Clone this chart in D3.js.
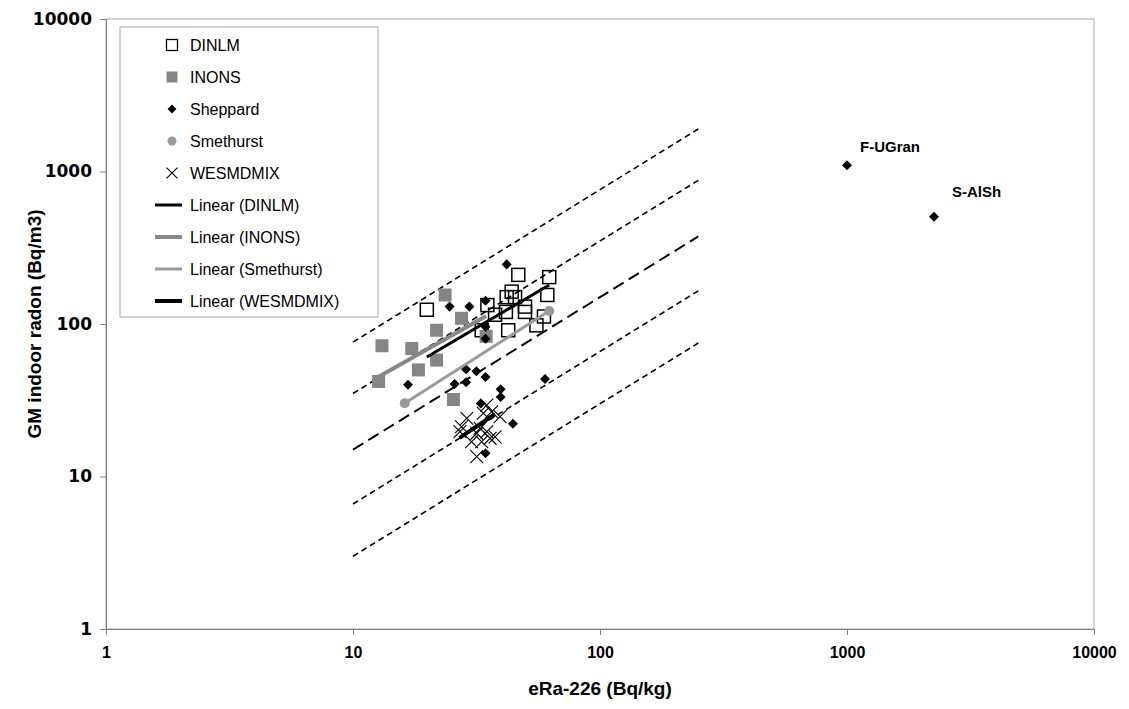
<!DOCTYPE html>
<html>
<head>
<meta charset="utf-8">
<script src="https://cdn.jsdelivr.net/npm/d3@7"></script>
<style>
  body { margin: 0; background: #fff; }
  text { font-family: "Liberation Sans", Arial, sans-serif; }
</style>
</head>
<body>
<svg id="chart"></svg>
<script>
// values
var dinlmX = [19.9, 46.7, 62.3, 61.2, 43.9, 41.9, 45.3, 35.0, 37.6, 41.6, 49.7, 49.7, 42.5, 33.2, 55.3, 59.3];
var dinlmY = [124, 210, 203, 155, 163, 150, 150, 133, 115, 120, 130, 120, 91, 91, 98, 112];

var inonsX = [23.6, 13.1, 17.3, 21.8, 27.5, 21.8, 18.4, 12.7, 25.5, 34.6];
var inonsY = [155, 72, 69, 91, 109, 58, 50, 42, 32, 83];

var sheppardX = [41.9, 24.6, 29.6, 34.4, 34.4, 34.4, 16.7, 28.7, 31.6, 34.4, 25.8, 28.7, 39.6, 39.6, 59.9, 32.9, 44.4, 34.4, 1000, 2250];
var sheppardY = [246, 130, 130, 142, 96, 80, 40, 50.5, 49, 45, 40.4, 41.5, 37.3, 33.2, 43.6, 30.1, 22.2, 14.2, 1100, 505];

var smethurstX = [16.2, 62.3];
var smethurstY = [30.2, 121.7];

var wesX = [27.5, 28.9, 33.7, 36.4, 39.4, 31.7, 34.8, 37.6, 30.2, 33.2, 35.9, 31.7, 32.7, 27.1, 34.8];
var wesY = [21.2, 24.1, 26.0, 26.6, 24.7, 19.2, 19.7, 18.2, 16.9, 16.9, 17.8, 13.5, 20.7, 19.7, 29.4];

// trend lines (end points)
var trendDinlm = [[19.9, 60.8], [62.3, 180]];
var trendInons = [[12.7, 45.1], [34.6, 112.8]];
var trendSmethurst = [[16.2, 30.2], [62.3, 121.7]];
var trendWes = [[27.0, 17.9], [37.6, 25.7]];

// dashed guide lines, value at x=10 and x=250
var guideStart = [76, 35, 15, 6.6, 3.0];
var guideEnd = [1900, 875, 375, 165, 75];
var guideRange = [10, 250];

var outlierNames = ["F-UGran", "S-AlSh"];
var outlierX = [1000, 2250];
var outlierY = [1100, 505];

var ticks = [1, 10, 100, 1000, 10000];

var W = 1129, H = 709;
var margin = {top: 19, right: 35, bottom: 80, left: 106};

var svg = d3.select("#chart").attr("width", W).attr("height", H);
svg.append("rect").attr("width", W).attr("height", H).attr("fill", "#fff");

var x = d3.scaleLog().domain([1, 10000]).range([margin.left, W - margin.right]);
var y = d3.scaleLog().domain([1, 10000]).range([H - margin.bottom, margin.top]);

// plot frame
svg.append("rect")
  .attr("x", x(1)).attr("y", y(10000))
  .attr("width", x(10000) - x(1)).attr("height", y(1) - y(10000))
  .attr("fill", "none").attr("stroke", "#a6a6a6").attr("stroke-width", 1);

var xAxis = svg.append("g")
  .attr("transform", `translate(0, ${y(1)})`)
  .call(d3.axisBottom(x).tickValues(ticks).tickFormat(d3.format("d")).tickSize(6).tickPadding(12));
var yAxis = svg.append("g")
  .attr("transform", `translate(${x(1)}, 0)`)
  .call(d3.axisLeft(y).tickValues(ticks).tickFormat(d3.format("d")).tickSize(6).tickPadding(8));

[xAxis, yAxis].forEach(function(a) {
  a.select(".domain").attr("stroke", "#808080");
  a.selectAll(".tick line").attr("stroke", "#808080");
  a.selectAll(".tick text").attr("fill", "#000").style("font-weight", "bold");
});
xAxis.selectAll(".tick text")
  .style("font-size", "16px")
  .style("font-family", "'Liberation Sans', Arial, sans-serif");
yAxis.selectAll(".tick text")
  .style("font-size", "17px")
  .style("font-family", "'DejaVu Sans', sans-serif");

svg.append("text")
  .attr("x", (x(1) + x(10000)) / 2)
  .attr("y", 695)
  .attr("text-anchor", "middle")
  .style("font-size", "19px").style("font-weight", "bold")
  .text("eRa-226 (Bq/kg)");

svg.append("text")
  .attr("transform", `translate(41, ${(y(1) + y(10000)) / 2}) rotate(-90)`)
  .attr("text-anchor", "middle")
  .style("font-size", "19px").style("font-weight", "bold")
  .text("GM indoor radon (Bq/m3)");

// guide lines
var g = svg.append("g");
guideStart.forEach(function(v, i) {
  g.append("line")
    .attr("x1", x(guideRange[0])).attr("y1", y(v))
    .attr("x2", x(guideRange[1])).attr("y2", y(guideEnd[i]))
    .attr("stroke", "#000")
    .attr("stroke-width", i === 2 ? 2 : 1.6)
    .attr("stroke-dasharray", i === 2 ? "12,6" : "6,4");
});

function zip(xs, ys) { return xs.map(function(d, i) { return [d, ys[i]]; }); }

// DINLM open squares
g.selectAll(".dinlm").data(zip(dinlmX, dinlmY)).join("rect")
  .attr("x", d => x(d[0]) - 6.5).attr("y", d => y(d[1]) - 6.5)
  .attr("width", 13).attr("height", 13)
  .attr("fill", "none").attr("stroke", "#000").attr("stroke-width", 1.5);

// INONS gray squares
g.selectAll(".inons").data(zip(inonsX, inonsY)).join("rect")
  .attr("x", d => x(d[0]) - 6.5).attr("y", d => y(d[1]) - 6.5)
  .attr("width", 13).attr("height", 13)
  .attr("fill", "#858585");

// Sheppard diamonds
var diamond = d3.symbol().type(d3.symbolDiamond2).size(64);
g.selectAll(".shep").data(zip(sheppardX, sheppardY)).join("path")
  .attr("d", diamond)
  .attr("transform", d => `translate(${x(d[0])},${y(d[1])})`)
  .attr("fill", "#000");

// Smethurst circles
g.selectAll(".smet").data(zip(smethurstX, smethurstY)).join("circle")
  .attr("cx", d => x(d[0])).attr("cy", d => y(d[1])).attr("r", 5)
  .attr("fill", "#999");

// WESMDMIX crosses
var cross = d3.symbol().type(d3.symbolX).size(110);
g.selectAll(".wes").data(zip(wesX, wesY)).join("path")
  .attr("d", cross)
  .attr("transform", d => `translate(${x(d[0])},${y(d[1])})`)
  .attr("fill", "none").attr("stroke", "#000").attr("stroke-width", 1.1);

// trend lines
var line = d3.line().x(d => x(d[0])).y(d => y(d[1]));
var trends = [
  {pts: trendDinlm, color: "#000", w: 3},
  {pts: trendInons, color: "#888", w: 4},
  {pts: trendSmethurst, color: "#9a9a9a", w: 3},
  {pts: trendWes, color: "#000", w: 4}
];
trends.forEach(function(t) {
  g.append("path").attr("d", line(t.pts))
    .attr("fill", "none").attr("stroke", t.color).attr("stroke-width", t.w);
});

// outlier labels (offsets from the point, in px)
var labelOffset = [[13, -13], [18, -20]];
outlierNames.forEach(function(n, i) {
  svg.append("text")
    .attr("x", x(outlierX[i]) + labelOffset[i][0]).attr("y", y(outlierY[i]) + labelOffset[i][1])
    .style("font-size", "15px").style("font-weight", "bold")
    .text(n);
});

// legend
var legendNames = ["DINLM", "INONS", "Sheppard", "Smethurst", "WESMDMIX",
  "Linear (DINLM)", "Linear (INONS)", "Linear (Smethurst)", "Linear (WESMDMIX)"];
var lg = svg.append("g");
lg.append("rect").attr("x", 120).attr("y", 27).attr("width", 258).attr("height", 290)
  .attr("fill", "#fff").attr("stroke", "#a6a6a6");
legendNames.forEach(function(n, i) {
  var ly = 45 + i * 32;
  var sx = 172;
  if (i === 0) lg.append("rect").attr("x", sx - 5.5).attr("y", ly - 5.5).attr("width", 11).attr("height", 11)
    .attr("fill", "none").attr("stroke", "#000").attr("stroke-width", 1.3);
  if (i === 1) lg.append("rect").attr("x", sx - 5.5).attr("y", ly - 5.5).attr("width", 11).attr("height", 11).attr("fill", "#858585");
  if (i === 2) lg.append("path").attr("d", d3.symbol().type(d3.symbolDiamond2).size(50)).attr("transform", `translate(${sx},${ly})`);
  if (i === 3) lg.append("circle").attr("cx", sx).attr("cy", ly).attr("r", 4.5).attr("fill", "#999");
  if (i === 4) lg.append("path").attr("d", d3.symbol().type(d3.symbolX).size(80)).attr("transform", `translate(${sx},${ly})`)
    .attr("fill", "none").attr("stroke", "#000").attr("stroke-width", 1.1);
  if (i >= 5) {
    var t = trends[i - 5];
    lg.append("line").attr("x1", 155).attr("x2", 182).attr("y1", ly).attr("y2", ly)
      .attr("stroke", t.color).attr("stroke-width", t.w);
  }
  lg.append("text").attr("x", 190).attr("y", ly + 6)
    .style("font-size", "16px").text(n);
});
</script>
</body>
</html>
